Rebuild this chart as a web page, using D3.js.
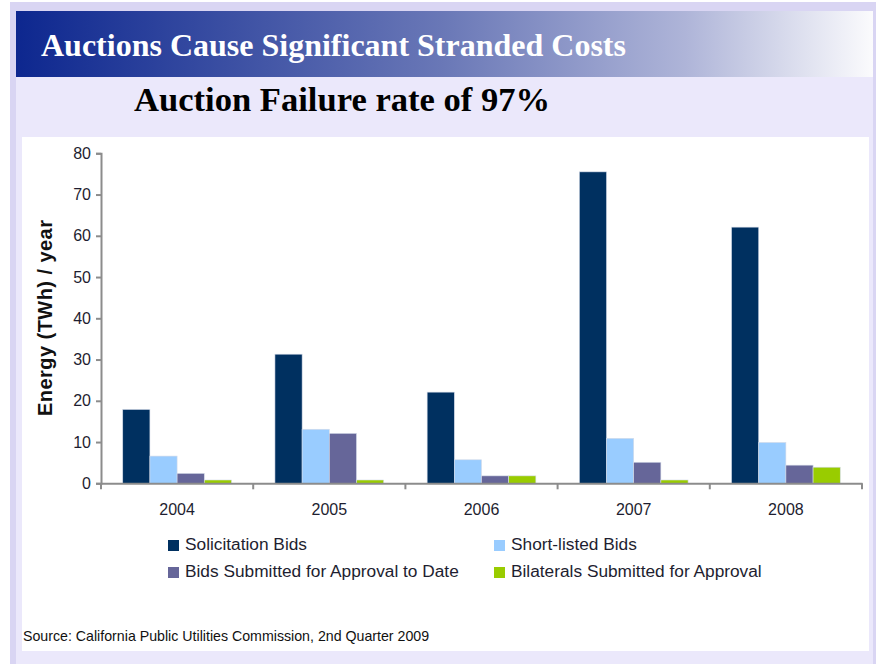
<!DOCTYPE html>
<html>
<head>
<meta charset="utf-8">
<script src="https://cdn.jsdelivr.net/npm/d3@7"></script>
<style>
  body { margin: 0; background: #fff; }
  svg { display: block; }
</style>
</head>
<body>
<div id="chart"></div>
<script>
const width = 876
const height = 664

const years = ['2004', '2005', '2006', '2007', '2008']
const series = ['Solicitation Bids', 'Short-listed Bids', 'Bids Submitted for Approval to Date', 'Bilaterals Submitted for Approval']
const solicitation = [17.9, 31.3, 22.1, 75.5, 62.1]
const shortListed = [6.6, 13.1, 5.7, 10.9, 9.9]
const submitted = [2.4, 12.1, 1.8, 5.1, 4.4]
const bilaterals = [0.8, 0.8, 1.8, 0.8, 3.9]
const yTicks = [0, 10, 20, 30, 40, 50, 60, 70, 80]
const colors = ['#003060', '#99ccff', '#666699', '#99cc00']

const values = [solicitation, shortListed, submitted, bilaterals]
const rows = years.map((y, i) => ({ year: y, vals: series.map((s, j) => ({ key: s, value: values[j][i] })) }))

const svg = d3.select('#chart').append('svg')
  .attr('width', width)
  .attr('height', height)

// slide frame
svg.append('rect').attr('x', 10).attr('y', 2).attr('width', 866).attr('height', 662).attr('fill', '#d9d5f3')
svg.append('rect').attr('x', 16).attr('y', 11).attr('width', 857).attr('height', 653).attr('fill', '#ebe8fb')

const grad = svg.append('defs').append('linearGradient').attr('id', 'band')
grad.append('stop').attr('offset', '0%').attr('stop-color', '#0d278f')
grad.append('stop').attr('offset', '50%').attr('stop-color', '#6a78b7')
grad.append('stop').attr('offset', '78%').attr('stop-color', '#aeb4d8')
grad.append('stop').attr('offset', '100%').attr('stop-color', '#fbfbfd')

svg.append('rect').attr('x', 16).attr('y', 11).attr('width', 857).attr('height', 66).attr('fill', 'url(#band)')

svg.append('text')
  .attr('x', 41).attr('y', 56)
  .attr('font-family', '"Liberation Serif", "Times New Roman", serif')
  .attr('font-weight', 'bold').attr('font-size', 32)
  .attr('fill', '#fff')
  .text('Auctions Cause Significant Stranded Costs')

svg.append('text')
  .attr('x', 134).attr('y', 111)
  .attr('font-family', '"Liberation Serif", "Times New Roman", serif')
  .attr('font-weight', 'bold').attr('font-size', 34.6)
  .attr('fill', '#000')
  .text('Auction Failure rate of 97%')

// chart area
svg.append('rect').attr('x', 22).attr('y', 137).attr('width', 847).attr('height', 514).attr('fill', '#fff')

const x0 = d3.scaleBand().domain(years).range([101, 862])
const x1 = d3.scaleBand().domain(series).range([0, x0.bandwidth()]).paddingOuter(0.8)
const y = d3.scaleLinear().domain([0, 80]).range([483.3, 153.3])

const g = svg.append('g')
g.selectAll('g.year')
  .data(rows)
  .enter()
  .append('g')
    .attr('transform', d => `translate(${x0(d.year)},0)`)
  .selectAll('rect')
  .data(d => d.vals)
  .enter()
  .append('rect')
    .attr('x', d => x1(d.key))
    .attr('width', x1.bandwidth())
    .attr('y', d => y(d.value))
    .attr('height', d => y(0) - y(d.value))
    .attr('fill', (d, i) => colors[i])
    .attr('stroke', '#d4dbe8')
    .attr('stroke-width', 0.6)

const font = '"Liberation Sans", Arial, sans-serif'
const axisColor = '#8c8c8c'

// y axis
const yAxis = svg.append('g')
  .attr('transform', 'translate(101,0)')
  .call(d3.axisLeft(y).tickValues(yTicks).tickSize(5).tickPadding(5))
yAxis.select('.domain').attr('stroke', axisColor).attr('stroke-width', 2)
yAxis.selectAll('.tick line').attr('stroke', axisColor).attr('stroke-width', 2)
yAxis.selectAll('.tick text')
  .attr('font-family', font).attr('font-size', 16).attr('fill', '#1e1e30')

// x axis
const xAxis = svg.append('g')
  .attr('transform', `translate(0,${y(0)})`)
  .call(d3.axisBottom(x0).tickSize(0).tickPadding(20))
xAxis.select('.domain').attr('stroke', axisColor).attr('stroke-width', 2)
xAxis.selectAll('.tick text')
  .attr('font-family', font).attr('font-size', 16).attr('fill', '#1e1e30')
xAxis.selectAll('line.sep')
  .data(years.map(d => x0(d)).concat([x0.range()[1]]))
  .enter()
  .append('line')
    .attr('class', 'sep')
    .attr('x1', d => d).attr('x2', d => d)
    .attr('y1', 0).attr('y2', 6)
    .attr('stroke', axisColor).attr('stroke-width', 2)

svg.append('text')
  .attr('transform', 'translate(52,318) rotate(-90)')
  .attr('text-anchor', 'middle')
  .attr('font-family', font).attr('font-weight', 'bold').attr('font-size', 20)
  .attr('textLength', 196).attr('lengthAdjust', 'spacing')
  .attr('fill', '#111')
  .text('Energy (TWh) / year')

// legend
const legendPos = [[168, 550], [494, 550], [168, 577], [494, 577]]
const legend = svg.selectAll('g.legend')
  .data(series)
  .enter()
  .append('g')
    .attr('transform', (d, i) => `translate(${legendPos[i][0]},${legendPos[i][1]})`)
legend.append('rect')
  .attr('x', 0).attr('y', -10).attr('width', 11).attr('height', 11)
  .attr('fill', (d, i) => colors[i])
legend.append('text')
  .attr('x', 17).attr('y', 0)
  .attr('font-family', font).attr('font-size', 17.3).attr('fill', '#1e1e30')
  .text(d => d)

svg.append('text')
  .attr('x', 23).attr('y', 641)
  .attr('font-family', font).attr('font-size', 14.2).attr('fill', '#111')
  .text('Source: California Public Utilities Commission, 2nd Quarter 2009')
</script>
</body>
</html>
